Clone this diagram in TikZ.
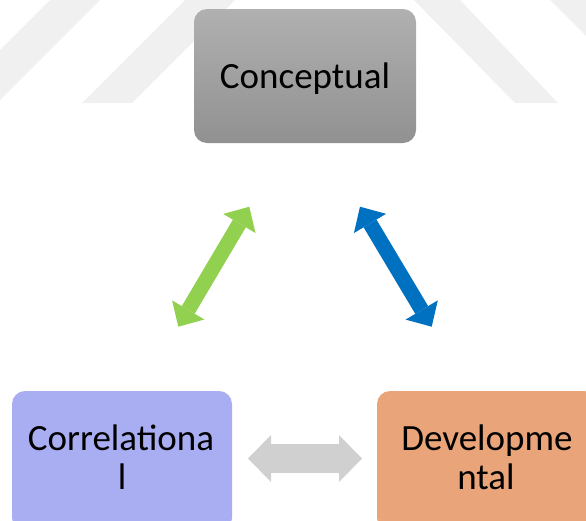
\documentclass[tikz,border=0pt]{standalone}
\usepackage{fontspec}
\setmainfont{Carlito}
\usetikzlibrary{arrows.meta}

\definecolor{markgray}{RGB}{240,240,240}
\definecolor{conctop}{RGB}{176,176,176}
\definecolor{concbot}{RGB}{145,145,145}
\definecolor{corrfill}{RGB}{169,174,242}
\definecolor{devfill}{RGB}{233,164,121}
\definecolor{linkgreen}{RGB}{146,208,80}
\definecolor{linkblue}{RGB}{0,112,192}
\definecolor{linkgray}{RGB}{208,208,208}

\tikzset{
  card/.style={rounded corners=13pt, draw=none, inner sep=0pt},
  caption/.style={font=\fontsize{37}{39}\selectfont, text=black, inner sep=0pt, anchor=base},
  slimlink/.style={line width=15pt,
    >={Triangle[length=19.5pt,width=37.5pt,line width=0pt]}, <->},
  widelink/.style={line width=29pt,
    >={Triangle[length=23pt,width=47pt,line width=0pt]}, <->},
}

\begin{document}
\begin{tikzpicture}[x=1pt,y=-1pt]
\useasboundingbox (0,0) rectangle (586,520);

% faint diagonal bands in the background
\fill[markgray] (50,0) -- (100,0) -- (0,100) -- (0,50) -- cycle;
\fill[markgray] (185,0) -- (235,0) -- (132,103) -- (82,103) -- cycle;
\fill[markgray] (414,0) -- (460,0) -- (558,103) -- (515,103) -- cycle;
\fill[markgray] (550,0) -- (586,0) -- (586,36) -- cycle;

% boxes
\node[card, minimum width=222pt, minimum height=134pt,
      top color=conctop, bottom color=concbot] (concept) at (305,76) {};
\node[card, minimum width=220pt, minimum height=140pt, fill=corrfill] (corr) at (122,461) {};
\node[card, minimum width=220pt, minimum height=140pt, fill=devfill] (dev) at (487,461) {};

% box texts
\node[caption] (conceptA) at (305,88) {Conceptual};
\node[caption] (corrA) at (121,450) {Correlationa};
\node[caption] (corrB) at (122,489) {l};
\node[caption] (devA) at (487,450) {Developme};
\node[caption] (devB) at (486,489) {ntal};

% two-headed links
\coordinate (gA) at (178.3,326.7);
\coordinate (gB) at (249.3,206.7);
\coordinate (bA) at (360,206.7);
\coordinate (bB) at (431.7,326.7);
\coordinate (hA) at (248,458.5);
\coordinate (hB) at (362,458.5);

\draw[slimlink, draw=linkgreen] (gA) -- (gB);
\draw[slimlink, draw=linkblue] (bA) -- (bB);
\draw[widelink, draw=linkgray] (hA) -- (hB);
\end{tikzpicture}
\end{document}
